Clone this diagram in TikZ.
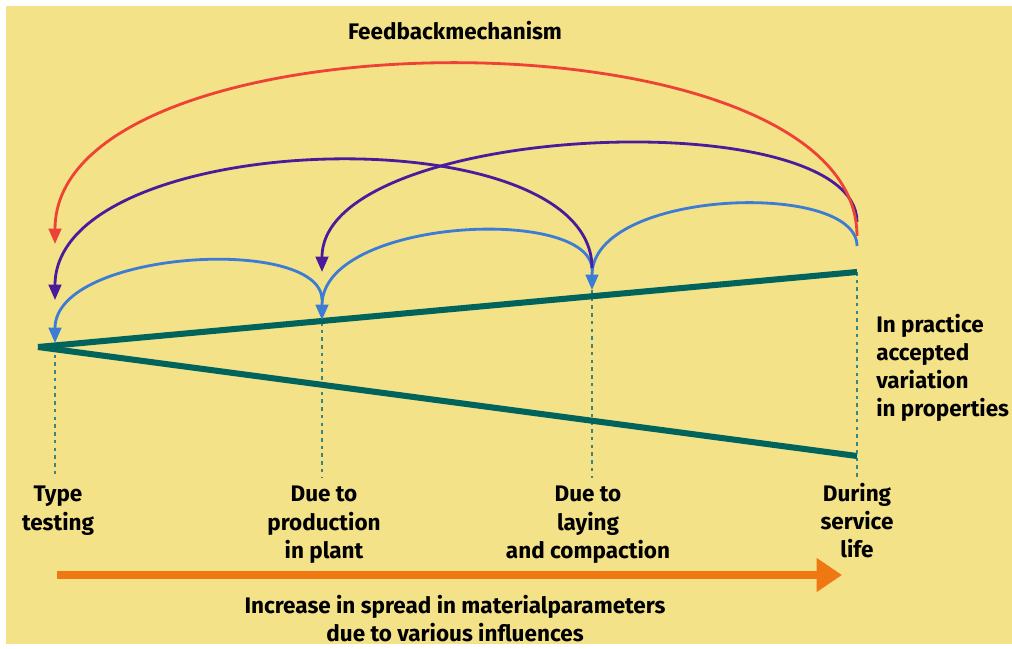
\documentclass[tikz,border=0pt]{standalone}
\usepackage{fontspec}
\setmainfont{Fira Sans}
\usetikzlibrary{arrows.meta}
\definecolor{bgyellow}{HTML}{F3E287}
\definecolor{wedgeteal}{HTML}{00645C}
\definecolor{dotteal}{HTML}{3A8580}
\definecolor{fbblue}{HTML}{3C7CD4}
\definecolor{fbpurple}{HTML}{4A1C9C}
\definecolor{fbred}{HTML}{EE4236}
\definecolor{spreadorange}{HTML}{EF7812}
\begin{document}
\begin{tikzpicture}[x=0.025cm, y=-0.025cm,
  every node/.style={font=\bfseries\fontsize{16}{20}\selectfont, inner sep=0pt},
  wedge/.style={wedgeteal, line width=4.3pt},
  stage/.style={dotteal, line width=1.2pt, dash pattern=on 2.5pt off 3pt},
  fbarc/.style={line width=2pt, -{Triangle[width=9pt,length=11pt]}}]
\useasboundingbox (0,0) rectangle (1012,649);
\fill [bgyellow] (6,6) rectangle (1012,644);
% stage points
\coordinate (apex) at (38,347);
\coordinate (s1) at (55,347);
\coordinate (s2top) at (322,322);
\coordinate (s3top) at (592,290);
\coordinate (s4top) at (857,272);
\coordinate (s4low) at (857,456);
\coordinate (s1b) at (55,478);
\coordinate (s2b) at (322,478);
\coordinate (s3b) at (592,478);
\coordinate (s4b) at (857,478);
% dotted stage lines
\draw [stage] (s1) -- (s1b);
\draw [stage] (s2top) -- (s2b);
\draw [stage] (s3top) -- (s3b);
\draw [stage] (s4top) -- (s4b);
% spread wedge
\draw [wedge] (apex) -- (s4top);
\draw [wedge] (apex) -- (s4low);
% feedback arcs
\coordinate (b1s) at (322,300);
\coordinate (b1e) at (55,343);
\coordinate (b2s) at (592,270);
\coordinate (b2e) at (322,320);
\coordinate (b3s) at (857,246);
\coordinate (b3e) at (592,290);
\draw [fbarc, fbblue] (b1s) .. controls (322,235) and (55,250) .. (b1e);
\draw [fbarc, fbblue] (b2s) .. controls (592,205) and (322,218) .. (b2e);
\draw [fbarc, fbblue] (b3s) .. controls (857,180) and (592,189) .. (b3e);
\coordinate (p1s) at (592,268);
\coordinate (p1e) at (55,300);
\coordinate (p2s) at (857,222);
\coordinate (p2e) at (322,272);
\draw [fbarc, fbpurple] (p1s) .. controls (592,112) and (55,128) .. (p1e);
\draw [fbarc, fbpurple] (p2s) .. controls (857,100) and (322,122) .. (p2e);
\coordinate (r1s) at (857,236);
\coordinate (r1e) at (55,244);
\draw [fbarc, fbred] (r1s) .. controls (857,4) and (55,8) .. (r1e);
% labels
\node (fb) at (455,31) {Feedbackmechanism};
\node (accepted) [anchor=west, align=left] at (876,368) {In practice\\accepted\\variation\\in properties};
\node (type) [anchor=north, align=center] at (58,486) {Type\\testing};
\node (plant) [anchor=north, align=center] at (324,486) {Due to\\production\\in plant};
\node (laying) [anchor=north, align=center] at (588,486) {Due to\\laying\\and compaction};
\node (service) [anchor=north, align=center] at (857,483) {During\\service\\life};
% spread arrow
\coordinate (spreadL) at (57,575);
\coordinate (spreadR) at (842,575);
\draw [spreadorange, line width=5.5pt, -{Triangle[width=23pt,length=18pt]}] (spreadL) -- (spreadR);
\node (spread) [anchor=north, align=center] at (455,595) {Increase in spread in materialparameters\\due to various influences};
\end{tikzpicture}
\end{document}
